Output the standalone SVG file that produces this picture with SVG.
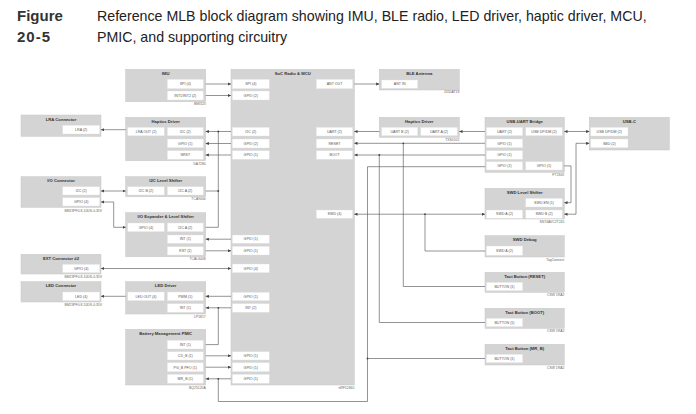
<svg xmlns="http://www.w3.org/2000/svg" width="696" height="414" viewBox="0 0 696 414">
<style>
.blk{fill:#d4d4d4;stroke:#c6c6c6;stroke-width:0.5}
.pin{fill:#fff;stroke:#e2e2e2;stroke-width:0.4}
.t{font-family:"Liberation Sans",Arial,sans-serif;font-size:4.2px;font-weight:bold;fill:#333;text-anchor:middle}
.p{font-family:"Liberation Sans",Arial,sans-serif;font-size:3.6px;fill:#555;text-anchor:middle}
.lb{font-family:"Liberation Sans",Arial,sans-serif;font-size:3.4px;fill:#666;text-anchor:end}
.w{fill:none;stroke:#5a5a5a;stroke-width:0.65}
.e{marker-end:url(#a)}
.b{marker-start:url(#a);marker-end:url(#a)}
.d{fill:#444}
.hd{font-family:"Liberation Sans",Arial,sans-serif;font-size:15px;font-weight:bold;fill:#333}
.ht{font-family:"Liberation Sans",Arial,sans-serif;font-size:14.2px;fill:#222}
</style>
<defs>
<marker id="a" viewBox="0 0 6 6" refX="6" refY="3" markerWidth="3.2" markerHeight="3.2" markerUnits="userSpaceOnUse" orient="auto-start-reverse"><path d="M0,0L6,3L0,6z" fill="#444"/></marker>
</defs>
<rect width="696" height="414" fill="#fff"/>
<g id="header">
<text class="hd" x="17" y="20.5">Figure</text>
<text class="hd" x="17" y="42" letter-spacing="1">20-5</text>
<text class="ht" x="97" y="20.5">Reference MLB block diagram showing IMU, BLE radio, LED driver, haptic driver, MCU,</text>
<text class="ht" x="97" y="42">PMIC, and supporting circuitry</text>
</g>

<g id="imu">
<rect class="blk" x="125.7" y="69.3" width="80" height="32.4"/>
<text class="t" x="165.7" y="75">IMU</text>
<rect class="pin" x="167.3" y="79.3" width="36" height="9.4"/><text class="p" x="185.3" y="85.3">SPI (4)</text>
<rect class="pin" x="167.3" y="91" width="36" height="9"/><text class="p" x="185.3" y="96.8">INT1/INT2 (2)</text>
<text class="lb" x="205.7" y="105">BMI323</text>
</g>

<g id="lra-connector">
<rect class="blk" x="21" y="115" width="80" height="21.3"/>
<text class="t" x="61" y="120.6">LRA Connector</text>
<rect class="pin" x="62.7" y="125.3" width="37" height="8.7"/><text class="p" x="81.2" y="130.9">LRA (2)</text>
</g>

<g id="haptics-driver">
<rect class="blk" x="125.7" y="117.3" width="80" height="43.4"/>
<text class="t" x="165.7" y="122.8">Haptics Driver</text>
<rect class="pin" x="127.7" y="127.3" width="36.6" height="8.5"/><text class="p" x="146" y="132.8">LRA OUT (2)</text>
<rect class="pin" x="167.3" y="127.3" width="36" height="8.5"/><text class="p" x="185.3" y="132.8">I2C (2)</text>
<rect class="pin" x="167.3" y="139" width="36" height="8.7"/><text class="p" x="185.3" y="144.6">GPIO (1)</text>
<rect class="pin" x="167.3" y="150.7" width="36" height="8.6"/><text class="p" x="185.3" y="156.3">NRST</text>
<text class="lb" x="205.7" y="164.6">DA7280</text>
</g>

<g id="io-connector">
<rect class="blk" x="21" y="176.7" width="80" height="30.6"/>
<text class="t" x="61" y="182.2">I/O Connector</text>
<rect class="pin" x="62.7" y="186.7" width="37" height="8.3"/><text class="p" x="81.2" y="192.1">I2C (2)</text>
<rect class="pin" x="62.7" y="197.7" width="37" height="8.3"/><text class="p" x="81.2" y="203.1">GPIO (4)</text>
<text class="lb" x="102" y="211.8">BM23PF0.8-10DS-0.35V</text>
</g>

<g id="i2c-level-shifter">
<rect class="blk" x="125.7" y="176.7" width="80" height="20"/>
<text class="t" x="165.7" y="182.2">I2C Level Shifter</text>
<rect class="pin" x="127.7" y="186.7" width="36.6" height="8.3"/><text class="p" x="146" y="192.1">I2C B (2)</text>
<rect class="pin" x="167.3" y="186.7" width="36" height="8.3"/><text class="p" x="185.3" y="192.1">I2C A (2)</text>
<text class="lb" x="205.7" y="200.3">TCA9406</text>
</g>

<g id="io-expander">
<rect class="blk" x="125.7" y="212.7" width="80" height="44"/>
<text class="t" x="165.7" y="218.3">I/O Expander &amp; Level Shifter</text>
<rect class="pin" x="127.7" y="223" width="36.6" height="8.7"/><text class="p" x="146" y="228.6">GPIO (4)</text>
<rect class="pin" x="167.3" y="223" width="36" height="8.7"/><text class="p" x="185.3" y="228.6">I2C A (2)</text>
<rect class="pin" x="167.3" y="235" width="36" height="8.3"/><text class="p" x="185.3" y="240.4">INT (1)</text>
<rect class="pin" x="167.3" y="246.7" width="36" height="8.3"/><text class="p" x="185.3" y="252.1">RST (1)</text>
<text class="lb" x="205.7" y="260.3">TCAL6408</text>
</g>

<g id="ext-connector">
<rect class="blk" x="21" y="254.3" width="80" height="19.7"/>
<text class="t" x="61" y="259.8">EXT Connector #2</text>
<rect class="pin" x="62.7" y="264.3" width="37" height="8.4"/><text class="p" x="81.2" y="269.8">GPIO (4)</text>
<text class="lb" x="102" y="277.8">BM23PF0.8-10DS-0.35V</text>
</g>

<g id="led-connector">
<rect class="blk" x="21" y="281.7" width="80" height="20.3"/>
<text class="t" x="61" y="287.2">LED Connector</text>
<rect class="pin" x="62.7" y="292" width="37" height="8.7"/><text class="p" x="81.2" y="297.6">LED (4)</text>
<text class="lb" x="102" y="306">BM23PF0.8-10DS-0.35V</text>
</g>

<g id="led-driver">
<rect class="blk" x="125.7" y="281.7" width="80" height="32.3"/>
<text class="t" x="165.7" y="287.2">LED Driver</text>
<rect class="pin" x="127.7" y="292" width="36.6" height="8.7"/><text class="p" x="146" y="297.6">LED OUT (4)</text>
<rect class="pin" x="167.3" y="292" width="36" height="8.7"/><text class="p" x="185.3" y="297.6">PWM (1)</text>
<rect class="pin" x="167.3" y="303.7" width="36" height="8.6"/><text class="p" x="185.3" y="309.3">INT (1)</text>
<text class="lb" x="205.7" y="317.5">LP5817</text>
</g>

<g id="pmic">
<rect class="blk" x="125.7" y="329.3" width="80" height="55.7"/>
<text class="t" x="165.7" y="334.9">Battery Management PMIC</text>
<rect class="pin" x="167.3" y="340.3" width="36" height="8.7"/><text class="p" x="185.3" y="345.9">INT (1)</text>
<rect class="pin" x="167.3" y="351.7" width="36" height="8.3"/><text class="p" x="185.3" y="357.1">CD_B (1)</text>
<rect class="pin" x="167.3" y="362.7" width="36" height="9"/><text class="p" x="185.3" y="368.5">PG_B PFO (1)</text>
<rect class="pin" x="167.3" y="374.3" width="36" height="9"/><text class="p" x="185.3" y="380.1">MR_B (1)</text>
<text class="lb" x="205.7" y="388.8">BQ25120A</text>
</g>

<g id="mcu">
<rect class="blk" x="231" y="69.3" width="123.3" height="315.7"/>
<text class="t" x="292.7" y="75">SoC Radio &amp; MCU</text>
<rect class="pin" x="232.3" y="79.3" width="37" height="9.4"/><text class="p" x="250.8" y="85.3">SPI (4)</text>
<rect class="pin" x="232.3" y="91" width="37" height="9"/><text class="p" x="250.8" y="96.8">GPIO (2)</text>
<rect class="pin" x="232.3" y="127.3" width="37" height="8.7"/><text class="p" x="250.8" y="132.9">I2C (2)</text>
<rect class="pin" x="232.3" y="139" width="37" height="9"/><text class="p" x="250.8" y="144.8">GPIO (2)</text>
<rect class="pin" x="232.3" y="150.7" width="37" height="8.6"/><text class="p" x="250.8" y="156.3">GPIO (1)</text>
<rect class="pin" x="232.3" y="235" width="37" height="8.3"/><text class="p" x="250.8" y="240.4">GPIO (1)</text>
<rect class="pin" x="232.3" y="246.3" width="37" height="8.7"/><text class="p" x="250.8" y="251.9">GPIO (1)</text>
<rect class="pin" x="232.3" y="264" width="37" height="8.7"/><text class="p" x="250.8" y="269.6">GPIO (4)</text>
<rect class="pin" x="232.3" y="292.3" width="37" height="8.4"/><text class="p" x="250.8" y="297.8">GPIO (1)</text>
<rect class="pin" x="232.3" y="303.7" width="37" height="8.6"/><text class="p" x="250.8" y="309.3">INT (2)</text>
<rect class="pin" x="232.3" y="351.7" width="37" height="8.3"/><text class="p" x="250.8" y="357.1">GPIO (1)</text>
<rect class="pin" x="232.3" y="362.7" width="37" height="9"/><text class="p" x="250.8" y="368.5">GPIO (1)</text>
<rect class="pin" x="232.3" y="374.3" width="37" height="9"/><text class="p" x="250.8" y="380.1">GPIO (1)</text>
<rect class="pin" x="316.3" y="79.3" width="36.4" height="9.4"/><text class="p" x="334.5" y="85.3">ANT OUT</text>
<rect class="pin" x="316.3" y="127.3" width="36.4" height="8.7"/><text class="p" x="334.5" y="132.9">UART (2)</text>
<rect class="pin" x="316.3" y="139" width="36.4" height="9"/><text class="p" x="334.5" y="144.8">RESET</text>
<rect class="pin" x="316.3" y="150.7" width="36.4" height="8.6"/><text class="p" x="334.5" y="156.3">BOOT</text>
<rect class="pin" x="316.3" y="210" width="36.4" height="8.3"/><text class="p" x="334.5" y="215.4">SWD (4)</text>
<text class="lb" x="354.3" y="388.8">nRF52840</text>
</g>

<g id="ble-antenna">
<rect class="blk" x="379.3" y="69.3" width="80" height="20.7"/>
<text class="t" x="419.3" y="74.8">BLE Antenna</text>
<rect class="pin" x="381.7" y="80" width="36" height="8.3"/><text class="p" x="399.7" y="85.4">ANT IN</text>
<text class="lb" x="459.3" y="93.3">2450AT18</text>
</g>

<g id="uart-driver">
<rect class="blk" x="379.3" y="117.3" width="80" height="20"/>
<text class="t" x="419.3" y="122.8">Haptics Driver</text>
<rect class="pin" x="381.7" y="127.3" width="36" height="8.4"/><text class="p" x="399.7" y="132.8">UART B (2)</text>
<rect class="pin" x="420.7" y="127.3" width="36.6" height="8.4"/><text class="p" x="439" y="132.8">UART A (2)</text>
<text class="lb" x="459.3" y="141">TXS0102</text>
</g>

<g id="usb-uart-bridge">
<rect class="blk" x="485" y="117.3" width="79.3" height="55"/>
<text class="t" x="524.7" y="122.8">USB-UART Bridge</text>
<rect class="pin" x="486.3" y="127.3" width="36.4" height="8.4"/><text class="p" x="504.5" y="132.8">UART (2)</text>
<rect class="pin" x="525.7" y="127.3" width="36.6" height="8.4"/><text class="p" x="544" y="132.8">USB DP/DM (2)</text>
<rect class="pin" x="486.3" y="139" width="36.4" height="8.7"/><text class="p" x="504.5" y="144.6">GPIO (1)</text>
<rect class="pin" x="486.3" y="150.7" width="36.4" height="8.6"/><text class="p" x="504.5" y="156.3">GPIO (1)</text>
<rect class="pin" x="486.3" y="161.7" width="36.4" height="8.3"/><text class="p" x="504.5" y="167.1">GPIO (1)</text>
<rect class="pin" x="525.7" y="161.7" width="36.6" height="8.3"/><text class="p" x="544" y="167.1">GPIO (1)</text>
<text class="lb" x="564.3" y="176">FT230X</text>
</g>

<g id="usb-c">
<rect class="blk" x="589.3" y="117.3" width="80" height="32.7"/>
<text class="t" x="629.3" y="122.8">USB-C</text>
<rect class="pin" x="590.7" y="127.3" width="37.3" height="8.7"/><text class="p" x="609.3" y="132.9">USB DP/DM (2)</text>
<rect class="pin" x="590.7" y="139" width="37.3" height="8.7"/><text class="p" x="609.3" y="144.6">SBU (2)</text>
</g>

<g id="swd-level-shifter">
<rect class="blk" x="485" y="188.3" width="79.3" height="30.7"/>
<text class="t" x="524.7" y="193.8">SWD Level Shifter</text>
<rect class="pin" x="525.7" y="198.3" width="36.6" height="8.7"/><text class="p" x="544" y="203.9">SWD EN (1)</text>
<rect class="pin" x="486.3" y="210" width="36.4" height="8.3"/><text class="p" x="504.5" y="215.4">SWD A (2)</text>
<rect class="pin" x="525.7" y="210" width="36.6" height="8.3"/><text class="p" x="544" y="215.4">SWD B (2)</text>
<text class="lb" x="564.3" y="223">SN74AVC2T245</text>
</g>

<g id="swd-debug">
<rect class="blk" x="485" y="235.7" width="79.3" height="21.3"/>
<text class="t" x="524.7" y="241.2">SWD Debug</text>
<rect class="pin" x="486.3" y="246" width="36.4" height="9.3"/><text class="p" x="504.5" y="251.9">SWD A (2)</text>
<text class="lb" x="564.3" y="261">TagConnect</text>
</g>

<g id="button-reset">
<rect class="blk" x="485" y="272.3" width="79.3" height="20"/>
<text class="t" x="524.7" y="277.8">Tact Button (RESET)</text>
<rect class="pin" x="486.3" y="282.3" width="36.4" height="8.4"/><text class="p" x="504.5" y="287.8">BUTTON (1)</text>
<text class="lb" x="564.3" y="296.3">CSW 1RA2</text>
</g>

<g id="button-boot">
<rect class="blk" x="485" y="308.3" width="79.3" height="20"/>
<text class="t" x="524.7" y="313.8">Tact Button (BOOT)</text>
<rect class="pin" x="486.3" y="318.3" width="36.4" height="8.4"/><text class="p" x="504.5" y="323.8">BUTTON (1)</text>
<text class="lb" x="564.3" y="332.3">CSW 1RA2</text>
</g>

<g id="button-mrb">
<rect class="blk" x="485" y="344.3" width="79.3" height="20.7"/>
<text class="t" x="524.7" y="349.8">Tact Button (MR_B)</text>
<rect class="pin" x="486.3" y="354.3" width="36.4" height="8.4"/><text class="p" x="504.5" y="359.8">BUTTON (1)</text>
<text class="lb" x="564.3" y="368.8">CSW 1RA2</text>
</g>

<g id="connectors">
<path class="w e" d="M205.7,84H231"/>
<path class="w e" d="M205.7,95.5H231"/>
<path class="w e" d="M354.3,84H379.3"/>
<path class="w e" d="M125.7,129.7H101"/>
<path class="w e" d="M231,131.5H205.7"/>
<path class="w" d="M218.3,131.5V227.3H205.7M218.3,191H205.7"/>
<path class="w e" d="M231,143.5H205.7"/>
<path class="w e" d="M231,155H205.7"/>
<path class="w b" d="M101,191H125.7"/>
<path class="w b" d="M101,202H113.7V227.3H125.7"/>
<path class="w e" d="M231,239.2H205.7"/>
<path class="w e" d="M205.7,250.8H231"/>
<path class="w b" d="M101,268.5H231"/>
<path class="w e" d="M125.7,296.3H101"/>
<path class="w e" d="M231,296.3H205.7"/>
<path class="w e" d="M231,307.8H205.7"/>
<path class="w" d="M218.3,307.8V344.6H205.7"/>
<path class="w e" d="M205.7,355.8H231"/>
<path class="w e" d="M205.7,367.2H231"/>
<path class="w e" d="M231,378.8H205.7"/>
<path class="w" d="M218.3,378.8V401.5H367.5V166.7H485M367.5,358.5H485"/>
<path class="w e" d="M379.3,131.5H354.3"/>
<path class="w e" d="M485,131.5H459.3"/>
<path class="w b" d="M564.3,131.5H589.3"/>
<path class="w e" d="M485,143.3H354.3"/>
<path class="w" d="M403.3,143.3V286.5H485"/>
<path class="w e" d="M485,155H354.3"/>
<path class="w" d="M379.3,155V322.5H485"/>
<path class="w e" d="M564.3,165.9H571V202.7H564.3"/>
<path class="w b" d="M589.3,143.3H576V214.2H564.3"/>
<path class="w b" d="M354.3,214.2H485"/>
<path class="w" d="M425,214.2V251H485"/>
<circle class="d" cx="218.3" cy="131.5" r="0.9"/>
<circle class="d" cx="218.3" cy="191" r="0.9"/>
<circle class="d" cx="218.3" cy="307.8" r="0.9"/>
<circle class="d" cx="218.3" cy="378.8" r="0.9"/>
<circle class="d" cx="367.5" cy="358.5" r="0.9"/>
<circle class="d" cx="403.3" cy="143.3" r="0.9"/>
<circle class="d" cx="379.3" cy="155" r="0.9"/>
<circle class="d" cx="425" cy="214.2" r="0.9"/>
</g>
</svg>
